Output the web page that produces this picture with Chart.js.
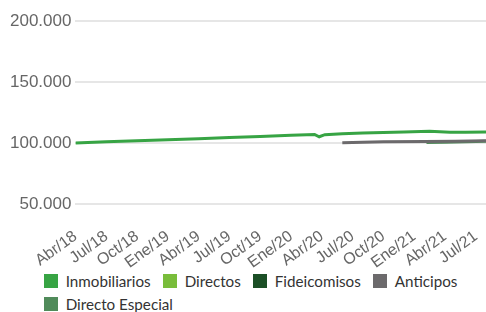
<!DOCTYPE html>
<html>
<head>
<meta charset="utf-8">
<script src="https://cdn.jsdelivr.net/npm/chart.js@4.4.1/dist/chart.umd.min.js"></script>
<style>
  html, body { margin: 0; padding: 0; background: #fff; }
  #wrap { position: relative; width: 486px; height: 312px; }
  #chartBox { position: absolute; left: 0; top: 0; width: 486px; height: 270px; }
  #legend {
    position: absolute; left: 44px; top: 274px; width: 440px;
    display: flex; flex-wrap: wrap; column-gap: 12.3px; row-gap: 8.6px;
    font-family: Lato, sans-serif; font-size: 15.2px; color: #333;
  }
  #legend .item { display: flex; align-items: center; height: 14px; white-space: nowrap; }
  #legend .box { width: 14px; height: 14px; margin-right: 7.7px; flex: none; }
</style>
</head>
<body>
<div id="wrap">
  <div id="chartBox"><canvas id="chart"></canvas></div>
  <div id="legend"></div>
</div>
<script>
// --- Data: x = months since Abr/18 ---
const tickLabels = ['Abr/18','Jul/18','Oct/18','Ene/19','Abr/19','Jul/19','Oct/19',
                    'Ene/20','Abr/20','Jul/20','Oct/20','Ene/21','Abr/21','Jul/21'];

const inmoMonths = [0, 3, 6, 9, 12, 15, 18, 21, 23.3, 23.75, 24.3, 26, 28, 30, 32, 34.5, 35.5, 36.5, 38, 40];
const inmoValues = [100000, 101000, 101900, 102700, 103500, 104500, 105300, 106300, 107000, 105100,
                    106800, 107500, 108200, 108700, 109000, 109600, 109200, 108800, 108900, 109100];

const anticMonths = [26, 30, 34, 37, 40];
const anticValues = [100200, 101000, 101300, 101400, 101800];

const especialMonths = [34.2, 36, 38, 40];
const especialValues = [100400, 100600, 101000, 101500];

const seriesNames  = ['Inmobiliarios', 'Directos', 'Fideicomisos', 'Anticipos', 'Directo Especial'];
const seriesColors = ['#37a444', '#79bd3b', '#1b4f26', '#6c6a6c', '#508b5a'];

const yTicks = [50000, 100000, 150000, 200000];

// --- helpers ---
const toPoints = (xs, ys) => xs.map((x, i) => ({ x, y: ys[i] }));
const fmt = v => String(v).replace(/\B(?=(\d{3})+(?!\d))/g, '.');

const seriesData = [
  toPoints(inmoMonths, inmoValues),
  [],
  [],
  toPoints(anticMonths, anticValues),
  toPoints(especialMonths, especialValues)
];

const ctx = document.getElementById('chart').getContext('2d');
const chart = new Chart(ctx, {
  type: 'line',
  data: {
    datasets: seriesNames.map((name, i) => ({
      label: name,
      data: seriesData[i],
      borderColor: seriesColors[i],
      backgroundColor: seriesColors[i],
      borderWidth: 3,
      pointRadius: 0,
      fill: false,
      tension: 0
    }))
  },
  options: {
    responsive: true,
    maintainAspectRatio: false,
    animation: false,
    layout: { padding: { top: 21, left: 6, right: 0, bottom: 0 } },
    plugins: {
      tooltip: { enabled: false },
      legend: { display: false }
    },
    scales: {
      x: {
        type: 'linear',
        min: 0,
        max: 40,
        afterFit: axis => {
          axis.height = 66;
          axis.paddingRight = 0;
        },
        grid: { display: false },
        border: { display: false },
        ticks: {
          stepSize: 3,
          autoSkip: false,
          includeBounds: false,
          minRotation: 36,
          maxRotation: 36,
          padding: 15,
          color: '#666',
          font: { family: 'Liberation Sans', size: 16 },
          callback: v => tickLabels[v / 3] ?? ''
        }
      },
      y: {
        min: 50000,
        max: 200000,
        afterBuildTicks: axis => { axis.ticks = yTicks.map(v => ({ value: v })); },
        grid: { color: '#e6e6e6', lineWidth: 2, drawTicks: false },
        border: { display: false },
        ticks: {
          padding: 4,
          color: '#666',
          font: { family: 'Liberation Sans', size: 17 },
          callback: v => fmt(v)
        }
      }
    }
  }
});

// --- HTML legend ---
const legendEl = document.getElementById('legend');
chart.data.datasets.forEach(ds => {
  const item = document.createElement('div');
  item.className = 'item';
  item.innerHTML = `<span class="box" style="background:${ds.borderColor}"></span><span>${ds.label}</span>`;
  legendEl.appendChild(item);
});
</script>
</body>
</html>
